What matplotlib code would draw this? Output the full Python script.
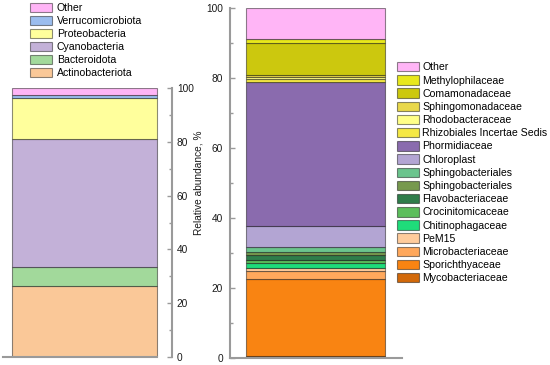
import matplotlib.pyplot as plt
from matplotlib.patches import Patch

plt.rcParams['font.family'] = ['Liberation Sans', 'DejaVu Sans']

# phylum level (left bar), bottom to top
phyla = ["Actinobacteriota", "Bacteroidota", "Cyanobacteria",
         "Proteobacteria", "Verrucomicrobiota", "Other"]
phyla_vals = [26.4, 6.9, 47.7, 15.4, 1.0, 2.6]
phyla_cols = ["#FAC898", "#A2D99B", "#C3B1D8", "#FFFF9C", "#9BBDEE", "#FFB5F6"]

# family level (right bar), bottom to top
families = ["Mycobacteriaceae", "Sporichthyaceae", "Microbacteriaceae", "PeM15",
            "Chitinophagaceae", "Crocinitomicaceae", "Flavobacteriaceae",
            "Sphingobacteriales", "Sphingobacteriales", "Chloroplast",
            "Phormidiaceae", "Rhizobiales Incertae Sedis", "Rhodobacteraceae",
            "Sphingomonadaceae", "Comamonadaceae", "Methylophilaceae", "Other"]
family_vals = [0.7, 21.8, 2.4, 0.9, 1.2, 1.0, 1.4, 0.9, 1.45, 6.0,
               41.05, 0.7, 0.6, 0.6, 9.1, 1.1, 9.1]
family_cols = ["#D2690A", "#F98412", "#FFA85C", "#FFCC9C", "#1FDC7A", "#5CBE5C",
               "#2F7D4B", "#77994E", "#6BC48D", "#B3A5D3", "#8A6BAE", "#F5E845",
               "#FFFF88", "#E9D84B", "#CCC80E", "#E8E81C", "#FFB5F6"]

edge = (0, 0, 0, 0.45)
spine_col = "#9A9A9A"
txt_col = "#1a1a1a"

fig = plt.figure(figsize=(5.5, 3.65), dpi=100)
W, H = 550, 365

# ---- left bar
ax1 = fig.add_axes([3 / W, 8 / H, 169 / W, 269 / H])
bottom = 0
for v, c in zip(phyla_vals, phyla_cols):
    ax1.bar(0, v, width=1, bottom=bottom, align='edge', color=c,
            edgecolor=edge, linewidth=0.8)
    bottom += v
ax1.set_xlim(-0.062, 1.103)
ax1.set_ylim(0, 100)
ax1.yaxis.tick_right()
ax1.set_yticks([0, 20, 40, 60, 80, 100])
ax1.set_yticks([10, 30, 50, 70, 90], minor=True)
ax1.tick_params(axis='y', which='both', direction='in', colors=spine_col,
                labelcolor=txt_col, labelsize=7.3, width=1, pad=3.5)
ax1.tick_params(axis='y', which='major', length=3.5)
ax1.tick_params(axis='y', which='minor', length=2)
ax1.set_xticks([])
ax1.spines['left'].set_visible(False)
ax1.spines['top'].set_visible(False)
for s in ['right', 'bottom']:
    ax1.spines[s].set_color(spine_col)
    ax1.spines[s].set_linewidth(1.5)
ax1.spines['bottom'].set_bounds(-0.062, 1)
ax1.patch.set_alpha(0)

# ---- right bar
ax2 = fig.add_axes([230 / W, 7 / H, 172 / W, 350.5 / H])
bottom = 0
for v, c in zip(family_vals, family_cols):
    ax2.bar(0, v, width=1, bottom=bottom, align='edge', color=c,
            edgecolor=edge, linewidth=0.8)
    bottom += v
ax2.set_xlim(-0.115, 1.122)
ax2.set_ylim(0, 100)
ax2.set_yticks([0, 20, 40, 60, 80, 100])
ax2.set_yticks([10, 30, 50, 70, 90], minor=True)
ax2.tick_params(axis='y', which='both', direction='in', colors=spine_col,
                labelcolor=txt_col, labelsize=7.3, width=1, pad=5)
ax2.tick_params(axis='y', which='major', length=3.5)
ax2.tick_params(axis='y', which='minor', length=2)
ax2.set_xticks([])
ax2.spines['right'].set_visible(False)
ax2.spines['top'].set_visible(False)
for s in ['left', 'bottom']:
    ax2.spines[s].set_color(spine_col)
    ax2.spines[s].set_linewidth(1.5)
ax2.set_ylabel("Relative abundance, %", fontsize=7.3, color=txt_col, labelpad=2)
ax2.patch.set_alpha(0)

# ---- legends (top entry first)
h1 = [Patch(facecolor=c, edgecolor=edge, linewidth=0.8) for c in phyla_cols][::-1]
fig.legend(h1, phyla[::-1], loc='upper left', bbox_to_anchor=(30 / W, 1 - 3 / H),
           frameon=False, fontsize=7.6, handlelength=2.1, handleheight=1.0,
           labelspacing=0.25, handletextpad=0.45, borderpad=0, borderaxespad=0)

h2 = [Patch(facecolor=c, edgecolor=edge, linewidth=0.8) for c in family_cols][::-1]
fig.legend(h2, families[::-1], loc='upper left', bbox_to_anchor=(397 / W, 1 - 62 / H),
           frameon=False, fontsize=7.6, handlelength=2.1, handleheight=1.0,
           labelspacing=0.27, handletextpad=0.3, borderpad=0, borderaxespad=0)

fig.savefig("out.png", dpi=100)
